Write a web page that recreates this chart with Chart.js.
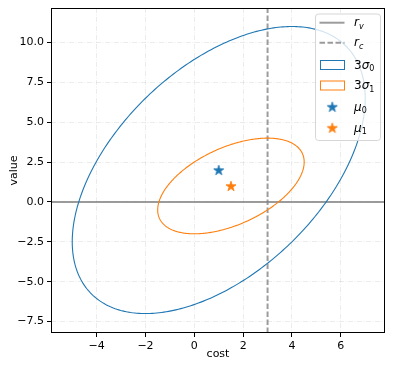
<!DOCTYPE html>
<html>
<head>
<meta charset="utf-8">
<script src="https://cdn.jsdelivr.net/npm/chart.js@4.4.1/dist/chart.umd.min.js"></script>
<style>
  html, body { margin: 0; padding: 0; background: #fff; }
  #wrap { width: 393px; height: 368px; }
</style>
</head>
<body>
<div id="wrap"><canvas id="myChart" width="393" height="368"></canvas></div>
<script>
// data
const xLimits = [-5.87, 7.81]
const yLimits = [-8.22, 12.16]
const xTicks = [-4, -2, 0, 2, 4, 6]
const yTicks = [-7.5, -5, -2.5, 0, 2.5, 5, 7.5, 10]
const mu0 = [1, 2]
const mu1 = [1.5, 1]
const sigma0 = [[4, 3], [3, 9]]
const sigma1 = [[1, 0.5], [0.5, 1]]
const nStd = 3
const rV = 0
const rC = 3
const legendLabels = [['r', 'v'], ['r', 'c'], ['3', 'σ', '0'], ['3', 'σ', '1'], ['μ', '0'], ['μ', '1']]

// colores
const blue = '#1f77b4'
const orange = '#ff7f0e'
const gray = 'rgba(128,128,128,0.78)'

Chart.defaults.font.family = 'DejaVu Sans'
Chart.defaults.font.size = 11
Chart.defaults.color = '#000'

function minus(v, dec){
    return v.toFixed(dec).replace('-', '\u2212')
}

// estrella rellena
function starPath(ctx, cx, cy, r){
    ctx.beginPath()
    for (let k = 0; k < 10; k++) {
        const rad = k % 2 ? r * 0.381966 : r
        const a = -Math.PI / 2 + k * Math.PI / 5
        const px = cx + rad * Math.cos(a), py = cy + rad * Math.sin(a)
        k ? ctx.lineTo(px, py) : ctx.moveTo(px, py)
    }
    ctx.closePath()
}

function makeStar(color){
    const c = document.createElement('canvas')
    c.width = 14; c.height = 14
    const ctx = c.getContext('2d')
    starPath(ctx, 7, 7.5, 5.3)
    ctx.fillStyle = color
    ctx.fill()
    ctx.strokeStyle = color
    ctx.lineWidth = 0.8
    ctx.stroke()
    return c
}
const starBlue = makeStar(blue)
const starOrange = makeStar(orange)

// elipses 3 sigma
function drawEllipse(chart, mean, cov, color){
    const {ctx, scales: {x, y}} = chart
    const a = Math.sqrt(cov[0][0])
    const b = cov[1][0] / a
    const c = Math.sqrt(cov[1][1] - b * b)
    ctx.beginPath()
    for (let i = 0; i <= 360; i++) {
        const t = i * Math.PI / 180
        const u = Math.cos(t), v = Math.sin(t)
        const px = x.getPixelForValue(mean[0] + nStd * a * u)
        const py = y.getPixelForValue(mean[1] + nStd * (b * u + c * v))
        i ? ctx.lineTo(px, py) : ctx.moveTo(px, py)
    }
    ctx.closePath()
    ctx.strokeStyle = color
    ctx.lineWidth = 1.1
    ctx.stroke()
}

// se dibujan despues de las rectas y antes de las estrellas
const ellipses = {
    id: 'ellipses',
    afterDatasetDraw(chart, args){
        if (args.index !== 2) return
        const {ctx, chartArea: ca} = chart
        ctx.save()
        ctx.beginPath()
        ctx.rect(ca.left, ca.top, ca.right - ca.left, ca.bottom - ca.top)
        ctx.clip()
        drawEllipse(chart, mu0, sigma0, blue)
        drawEllipse(chart, mu1, sigma1, orange)
        ctx.restore()
    }
}

// marco + leyenda
function mathLabel(ctx, parts, x, y){
    let cx = x
    parts.forEach((p, i) => {
        const isSub = i === parts.length - 1
        const isDigit = /[0-9]/.test(p)
        if (isSub) {
            ctx.font = (isDigit ? '' : 'italic ') + '8px "DejaVu Sans"'
            ctx.fillText(p, cx, y + 2.5)
        } else {
            ctx.font = (isDigit ? '' : 'italic ') + '12px "DejaVu Sans"'
            ctx.fillText(p, cx, y)
        }
        cx += ctx.measureText(p).width
    })
}

const frameLegend = {
    id: 'frameLegend',
    afterDraw(chart){
        const {ctx, chartArea: ca} = chart
        ctx.save()
        ctx.strokeStyle = '#000'
        ctx.lineWidth = 1
        ctx.strokeRect(Math.round(ca.left) + 0.5, Math.round(ca.top) + 0.5, Math.round(ca.right - ca.left) - 1, Math.round(ca.bottom - ca.top) - 1)

        // caja leyenda
        const lx = 315.5, ly = 14, lw = 65, lh = 126.5
        ctx.beginPath()
        ctx.roundRect(lx, ly, lw, lh, 3)
        ctx.fillStyle = 'rgba(255,255,255,0.8)'
        ctx.fill()
        ctx.strokeStyle = '#d6d6d6'
        ctx.stroke()

        const rows = [22.7, 42.7, 65, 85.5, 107.3, 128.3]
        const hx0 = 319.5, hx1 = 344.5
        ctx.lineWidth = 2
        ctx.strokeStyle = gray
        ctx.beginPath(); ctx.moveTo(hx0, rows[0]); ctx.lineTo(hx1, rows[0]); ctx.stroke()
        ctx.setLineDash([5.5, 2.5])
        ctx.beginPath(); ctx.moveTo(hx0, rows[1]); ctx.lineTo(hx1, rows[1]); ctx.stroke()
        ctx.setLineDash([])
        ctx.lineWidth = 1
        ctx.strokeStyle = blue
        ctx.strokeRect(320.5, rows[2] - 4.5, 24, 9)
        ctx.strokeStyle = orange
        ctx.strokeRect(320.5, rows[3] - 4.5, 24, 9)
        ctx.drawImage(starBlue, 332.3 - 7, rows[4] - 7.5)
        ctx.drawImage(starOrange, 332.3 - 7, rows[5] - 7.5)

        ctx.fillStyle = '#000'
        ctx.textBaseline = 'alphabetic'
        ctx.textAlign = 'left'
        legendLabels.forEach((parts, i) => mathLabel(ctx, parts, 354, rows[i] + 3.5))
        ctx.restore()
    }
}

const gridOpts = {
    color: 'rgba(176,176,176,0.3)',
    lineWidth: 0.8,
    tickColor: '#000',
    tickWidth: 1,
    tickLength: 4,
    tickBorderDash: []
}

const config = {
    type: 'scatter',
    data: {
        datasets: [
            {
                label: 'mu0',
                data: [{x: mu0[0], y: mu0[1]}],
                pointStyle: starBlue,
                pointRadius: 7
            },
            {
                label: 'mu1',
                data: [{x: mu1[0], y: mu1[1]}],
                pointStyle: starOrange,
                pointRadius: 7
            },
            {
                type: 'line',
                label: 'r_v',
                data: [{x: xLimits[0], y: rV}, {x: xLimits[1], y: rV}],
                borderColor: gray,
                borderWidth: 2,
                pointRadius: 0
            },
            {
                type: 'line',
                label: 'r_c',
                data: [{x: rC, y: yLimits[0]}, {x: rC, y: yLimits[1]}],
                borderColor: gray,
                borderWidth: 2,
                borderDash: [5.5, 2.5],
                pointRadius: 0
            }
        ]
    },
    options: {
        responsive: false,
        animation: false,
        devicePixelRatio: 1,
        events: [],
        layout: {padding: {left: 0, top: 7, right: 7, bottom: 0}},
        plugins: {legend: {display: false}, tooltip: {enabled: false}},
        scales: {
            x: {
                type: 'linear',
                min: xLimits[0],
                max: xLimits[1],
                afterBuildTicks: s => { s.ticks = xTicks.map(v => ({value: v})) },
                afterFit: s => { s.height = 35; s.paddingLeft = 0; s.paddingRight = 0 },
                ticks: {padding: 3, maxRotation: 0, autoSkip: false, callback: v => minus(v, 0)},
                grid: gridOpts,
                border: {display: false, dash: [5, 1.5, 1, 1.5]},
                title: {display: true, text: 'cost', font: {size: 11}, padding: {top: 0, bottom: 7}}
            },
            y: {
                type: 'linear',
                min: yLimits[0],
                max: yLimits[1],
                afterBuildTicks: s => { s.ticks = yTicks.map(v => ({value: v})) },
                afterFit: s => { s.width = 51; s.paddingTop = 0; s.paddingBottom = 0 },
                ticks: {padding: 3, autoSkip: false, callback: v => minus(v, 1)},
                grid: gridOpts,
                border: {display: false, dash: [5, 1.5, 1, 1.5]},
                title: {display: true, text: 'value', font: {size: 11}, padding: {top: 8, bottom: 0}}
            }
        }
    },
    plugins: [ellipses, frameLegend]
}

const myChart = new Chart(document.getElementById('myChart'), config)
</script>
</body>
</html>
